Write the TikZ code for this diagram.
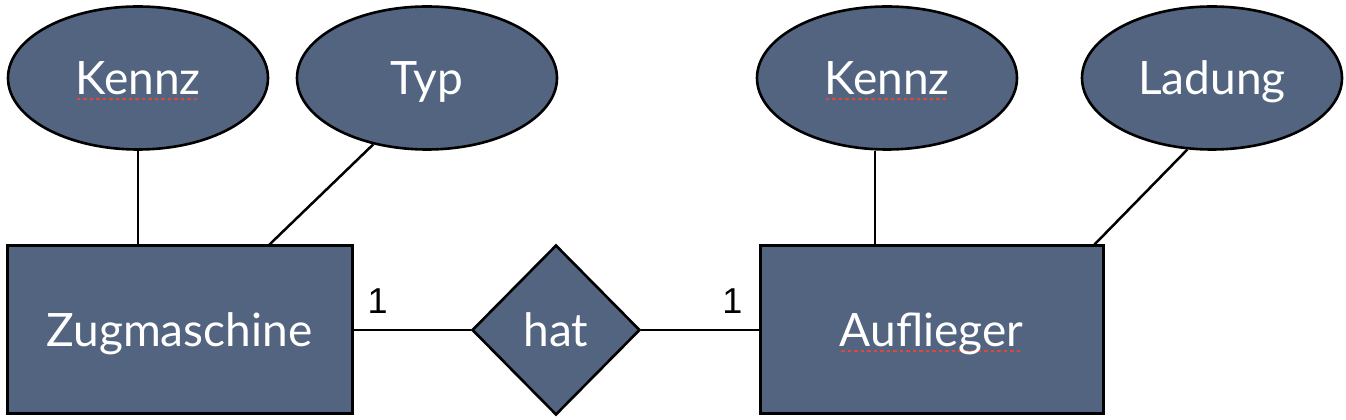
\documentclass[tikz,border=0pt]{standalone}
\usepackage{fontspec}
\setmainfont{Lato}
\newfontfamily\cardfont{Liberation Sans}
\usetikzlibrary{shapes.geometric,positioning}
\definecolor{slate}{RGB}{82,100,128}
\definecolor{spellred}{RGB}{222,72,58}
\newsavebox\spellbox
\newcommand\spellerr[1]{\sbox\spellbox{#1}%
  \rlap{\raisebox{-6pt}{\color{spellred}\hbox to \wd\spellbox{\leaders\hbox to 6.5pt{\hss\rule{3.5pt}{2.5pt}\hss}\hfill}}}%
  \usebox\spellbox}
\begin{document}
\begin{tikzpicture}[x=1pt,y=1pt,
		shape text/.style={text=white,font=\fontsize{46}{50}\selectfont,text height=33pt,text depth=0pt},
		entity/.style={draw,fill=slate,line width=3pt,minimum width=345pt,minimum height=168pt,inner sep=0pt,shape text},
		attr/.style={ellipse,draw,fill=slate,line width=2.6pt,minimum width=260pt,minimum height=143pt,inner sep=0pt,shape text},
		rel/.style={diamond,draw,fill=slate,line width=2.6pt,minimum width=168pt,minimum height=170pt,inner sep=0pt,shape text},
		card/.style={inner sep=0pt,font=\cardfont\fontsize{36}{36}\selectfont},
		conn/.style={line width=2.5pt}]
				\useasboundingbox (0,0) rectangle (1346,420);
				% entities and relationship
				\node[entity] (zug) at (179.5,90) {Zugmaschine};
				\node[rel] (hat) at (556,90) {hat};
				\node[entity,minimum width=343pt] (auf) at (931.5,90) {\spellerr{Auflieger}};
				% attributes
				\node[attr] (kennzZ) at (138,342) {\spellerr{Kennz}};
				\node[attr] (typ) at (427,342) {Typ};
				\node[attr] (kennzA) at (887,342) {\spellerr{Kennz}};
				\node[attr] (ladung) at (1212,342) {Ladung};
				% cardinalities
				\node[card,above right=16pt and 14pt of zug.east] (cardZ) {1};
				\node[card,above left=16pt and 16pt of auf.west] (cardA) {1};
				% connectors
				\draw[conn] (kennzZ.south) -- (kennzZ.south |- zug.north);
				\draw[conn] (typ.231) -- ([xshift=90pt]zug.north);
				\draw[conn] ([xshift=-12pt]kennzA.south) -- ([xshift=-12pt]kennzA.south |- auf.north);
				\draw[conn] (ladung.251) -- ([xshift=-10pt]auf.north east);
				\draw[conn] (zug.east) -- (hat.west);
				\draw[conn] (hat.east) -- (auf.west);
			\end{tikzpicture}
\end{document}
